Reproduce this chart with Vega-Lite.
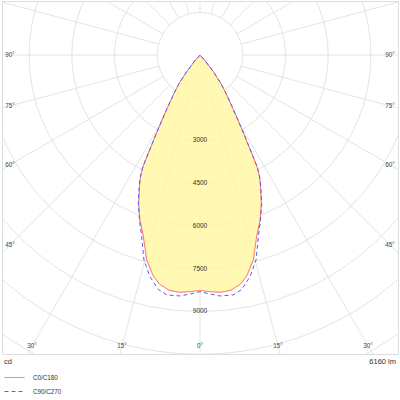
{
  "$schema": "https://vega.github.io/schema/vega-lite/v6.json",
  "width": 396,
  "height": 353,
  "autosize": {"type": "none"},
  "padding": {"left": 2, "top": 1, "right": 2, "bottom": 46},
  "config": {
    "view": {"stroke": "#dddddd"},
    "font": "Liberation Sans",
    "text": {"font": "Liberation Sans"}
  },
  "datasets": {
    "curves": [
      {"c": "C0/C180", "a": -45, "cd": 0},
      {"c": "C0/C180", "a": -42, "cd": 250},
      {"c": "C0/C180", "a": -39, "cd": 700},
      {"c": "C0/C180", "a": -36.5, "cd": 1220},
      {"c": "C0/C180", "a": -34, "cd": 1650},
      {"c": "C0/C180", "a": -32, "cd": 2100},
      {"c": "C0/C180", "a": -30.5, "cd": 2560},
      {"c": "C0/C180", "a": -29, "cd": 3200},
      {"c": "C0/C180", "a": -28, "cd": 3720},
      {"c": "C0/C180", "a": -27.5, "cd": 4080},
      {"c": "C0/C180", "a": -27, "cd": 4420},
      {"c": "C0/C180", "a": -26, "cd": 4760},
      {"c": "C0/C180", "a": -25, "cd": 5010},
      {"c": "C0/C180", "a": -22.5, "cd": 5630},
      {"c": "C0/C180", "a": -20, "cd": 6170},
      {"c": "C0/C180", "a": -17.3, "cd": 6680},
      {"c": "C0/C180", "a": -14.6, "cd": 7430},
      {"c": "C0/C180", "a": -12, "cd": 7920},
      {"c": "C0/C180", "a": -10, "cd": 8170},
      {"c": "C0/C180", "a": -7.5, "cd": 8330},
      {"c": "C0/C180", "a": -5, "cd": 8365},
      {"c": "C0/C180", "a": -2, "cd": 8310},
      {"c": "C0/C180", "a": 0, "cd": 8270},
      {"c": "C0/C180", "a": 2, "cd": 8310},
      {"c": "C0/C180", "a": 5, "cd": 8365},
      {"c": "C0/C180", "a": 7.5, "cd": 8330},
      {"c": "C0/C180", "a": 10, "cd": 8170},
      {"c": "C0/C180", "a": 12, "cd": 7920},
      {"c": "C0/C180", "a": 14.6, "cd": 7430},
      {"c": "C0/C180", "a": 17.3, "cd": 6680},
      {"c": "C0/C180", "a": 20, "cd": 6170},
      {"c": "C0/C180", "a": 22.5, "cd": 5630},
      {"c": "C0/C180", "a": 25, "cd": 5010},
      {"c": "C0/C180", "a": 26, "cd": 4760},
      {"c": "C0/C180", "a": 27, "cd": 4420},
      {"c": "C0/C180", "a": 27.5, "cd": 4080},
      {"c": "C0/C180", "a": 28, "cd": 3720},
      {"c": "C0/C180", "a": 29, "cd": 3200},
      {"c": "C0/C180", "a": 30.5, "cd": 2560},
      {"c": "C0/C180", "a": 32, "cd": 2100},
      {"c": "C0/C180", "a": 34, "cd": 1650},
      {"c": "C0/C180", "a": 36.5, "cd": 1220},
      {"c": "C0/C180", "a": 39, "cd": 700},
      {"c": "C0/C180", "a": 42, "cd": 250},
      {"c": "C0/C180", "a": 45, "cd": 0},
      {"c": "C90/C270", "a": -45, "cd": 0},
      {"c": "C90/C270", "a": -42, "cd": 250},
      {"c": "C90/C270", "a": -39, "cd": 705},
      {"c": "C90/C270", "a": -36.5, "cd": 1225},
      {"c": "C90/C270", "a": -34, "cd": 1660},
      {"c": "C90/C270", "a": -32, "cd": 2110},
      {"c": "C90/C270", "a": -30.5, "cd": 2570},
      {"c": "C90/C270", "a": -29, "cd": 3220},
      {"c": "C90/C270", "a": -28, "cd": 3740},
      {"c": "C90/C270", "a": -27.5, "cd": 4100},
      {"c": "C90/C270", "a": -27, "cd": 4450},
      {"c": "C90/C270", "a": -26, "cd": 4790},
      {"c": "C90/C270", "a": -25, "cd": 5040},
      {"c": "C90/C270", "a": -22.5, "cd": 5660},
      {"c": "C90/C270", "a": -20, "cd": 6200},
      {"c": "C90/C270", "a": -17.8, "cd": 6700},
      {"c": "C90/C270", "a": -15.3, "cd": 7460},
      {"c": "C90/C270", "a": -12.7, "cd": 7980},
      {"c": "C90/C270", "a": -10.1, "cd": 8360},
      {"c": "C90/C270", "a": -7.9, "cd": 8505},
      {"c": "C90/C270", "a": -4.7, "cd": 8490},
      {"c": "C90/C270", "a": -1.6, "cd": 8370},
      {"c": "C90/C270", "a": 0, "cd": 8310},
      {"c": "C90/C270", "a": 1.6, "cd": 8370},
      {"c": "C90/C270", "a": 4.7, "cd": 8490},
      {"c": "C90/C270", "a": 7.9, "cd": 8505},
      {"c": "C90/C270", "a": 10.1, "cd": 8360},
      {"c": "C90/C270", "a": 12.7, "cd": 7980},
      {"c": "C90/C270", "a": 15.3, "cd": 7460},
      {"c": "C90/C270", "a": 17.8, "cd": 6700},
      {"c": "C90/C270", "a": 20, "cd": 6200},
      {"c": "C90/C270", "a": 22.5, "cd": 5660},
      {"c": "C90/C270", "a": 25, "cd": 5040},
      {"c": "C90/C270", "a": 26, "cd": 4790},
      {"c": "C90/C270", "a": 27, "cd": 4450},
      {"c": "C90/C270", "a": 27.5, "cd": 4100},
      {"c": "C90/C270", "a": 28, "cd": 3740},
      {"c": "C90/C270", "a": 29, "cd": 3220},
      {"c": "C90/C270", "a": 30.5, "cd": 2570},
      {"c": "C90/C270", "a": 32, "cd": 2110},
      {"c": "C90/C270", "a": 34, "cd": 1660},
      {"c": "C90/C270", "a": 36.5, "cd": 1225},
      {"c": "C90/C270", "a": 39, "cd": 705},
      {"c": "C90/C270", "a": 42, "cd": 250},
      {"c": "C90/C270", "a": 45, "cd": 0}
    ],
    "rings": [
      {"cd": 1500}, {"cd": 3000}, {"cd": 4500}, {"cd": 6000},
      {"cd": 7500}, {"cd": 9000}, {"cd": 10500}, {"cd": 12000}
    ],
    "spokes": [
      {"a": 0}, {"a": 15}, {"a": 30}, {"a": 45}, {"a": 60}, {"a": 75},
      {"a": 90}, {"a": 105}, {"a": 120}, {"a": 135}, {"a": 150}, {"a": 165},
      {"a": 180}, {"a": 195}, {"a": 210}, {"a": 225}, {"a": 240}, {"a": 255},
      {"a": 270}, {"a": 285}, {"a": 300}, {"a": 315}, {"a": 330}, {"a": 345}
    ],
    "angleLabels": [
      {"a": -90, "t": "90°"}, {"a": -75, "t": "75°"}, {"a": -60, "t": "60°"},
      {"a": -45, "t": "45°"}, {"a": -30, "t": "30°"}, {"a": -15, "t": "15°"},
      {"a": 0, "t": "0°"}, {"a": 15, "t": "15°"}, {"a": 30, "t": "30°"},
      {"a": 45, "t": "45°"}, {"a": 60, "t": "60°"}, {"a": 75, "t": "75°"},
      {"a": 90, "t": "90°"}
    ],
    "ringLabels": [
      {"cd": 3000}, {"cd": 4500}, {"cd": 6000}, {"cd": 7500}, {"cd": 9000}
    ]
  },
  "layer": [
    {
      "data": {"name": "spokes"},
      "transform": [
        {"calculate": "datum.a * PI / 180", "as": "r"},
        {"calculate": "1500 * sin(datum.r)", "as": "x"},
        {"calculate": "-1500 * cos(datum.r)", "as": "y"},
        {"calculate": "20000 * sin(datum.r)", "as": "x2"},
        {"calculate": "-20000 * cos(datum.r)", "as": "y2"}
      ],
      "mark": {"type": "rule", "stroke": "#e4e4e4", "strokeWidth": 1, "clip": true},
      "encoding": {
        "x": {"field": "x", "type": "quantitative", "scale": {"domain": [-6950, 6950], "nice": false, "zero": false}, "axis": null},
        "y": {"field": "y", "type": "quantitative", "scale": {"domain": [-10500, 1900], "nice": false, "zero": false}, "axis": null},
        "x2": {"field": "x2"},
        "y2": {"field": "y2"}
      }
    },
    {
      "data": {"name": "rings"},
      "mark": {"type": "arc", "theta": 0, "theta2": 6.2832, "filled": false, "stroke": "#e4e4e4", "strokeWidth": 1, "clip": true},
      "encoding": {
        "x": {"datum": 0, "type": "quantitative", "scale": {"domain": [-6950, 6950], "nice": false, "zero": false}, "axis": null},
        "y": {"datum": 0, "type": "quantitative", "scale": {"domain": [-10500, 1900], "nice": false, "zero": false}, "axis": null},
        "radius": {"field": "cd", "type": "quantitative", "stack": false, "scale": {"type": "linear", "domain": [0, 6950], "range": [0, 198], "zero": true}}
      }
    },
    {
      "data": {"name": "curves"},
      "transform": [
        {"filter": "datum.c == 'C0/C180'"},
        {"calculate": "datum.cd * sin(datum.a * PI / 180)", "as": "x"},
        {"calculate": "-datum.cd * cos(datum.a * PI / 180)", "as": "y"}
      ],
      "mark": {"type": "line", "interpolate": "linear-closed", "fill": "#fff8a0", "fillOpacity": 0.8, "stroke": null, "strokeWidth": 0},
      "encoding": {
        "x": {"field": "x", "type": "quantitative", "scale": {"domain": [-6950, 6950], "nice": false, "zero": false}, "axis": null},
        "y": {"field": "y", "type": "quantitative", "scale": {"domain": [-10500, 1900], "nice": false, "zero": false}, "axis": null},
        "order": {"field": "a", "type": "quantitative"}
      }
    },
    {
      "data": {"name": "curves"},
      "transform": [
        {"calculate": "datum.cd * sin(datum.a * PI / 180)", "as": "x"},
        {"calculate": "-datum.cd * cos(datum.a * PI / 180)", "as": "y"}
      ],
      "mark": {"type": "line", "strokeWidth": 1},
      "encoding": {
        "x": {"field": "x", "type": "quantitative", "scale": {"domain": [-6950, 6950], "nice": false, "zero": false}, "axis": null},
        "y": {"field": "y", "type": "quantitative", "scale": {"domain": [-10500, 1900], "nice": false, "zero": false}, "axis": null},
        "order": {"field": "a", "type": "quantitative"},
        "stroke": {
          "field": "c", "type": "nominal",
          "scale": {"domain": ["C0/C180", "C90/C270"], "range": ["#ff5a5a", "#5a5aff"]},
          "legend": {
            "orient": "none", "legendX": 2, "legendY": 366, "title": null,
            "symbolType": "stroke", "symbolSize": 400, "symbolStrokeWidth": 1,
            "labelFontSize": 6.3, "labelColor": "#333", "labelOffset": 8,
            "rowPadding": -10, "padding": 0,
            "encode": {"symbols": {"update": {
              "stroke": {"signal": "datum.value === 'C0/C180' ? '#ff5a5a' : '#5a5aff'"},
              "strokeDash": {"scale": "strokeDash", "field": "value"}
            }}}
          }
        },
        "strokeDash": {
          "field": "c", "type": "nominal",
          "scale": {"domain": ["C0/C180", "C90/C270"], "range": [[1, 0], [4, 3]]},
          "legend": null
        }
      }
    },
    {
      "data": {"name": "ringLabels"},
      "transform": [{"calculate": "-datum.cd", "as": "y"}],
      "mark": {"type": "text", "fontSize": 6.5, "fill": "#333", "align": "center", "baseline": "middle"},
      "encoding": {
        "x": {"datum": 0, "type": "quantitative", "scale": {"domain": [-6950, 6950], "nice": false, "zero": false}, "axis": null},
        "y": {"field": "y", "type": "quantitative", "scale": {"domain": [-10500, 1900], "nice": false, "zero": false}, "axis": null},
        "text": {"field": "cd", "type": "quantitative", "format": "d"}
      }
    },
    {
      "data": {"name": "angleLabels"},
      "transform": [
        {"calculate": "datum.a * PI / 180", "as": "r"},
        {"calculate": "min(6670 / max(abs(sin(datum.r)), 1e-9), 10219 / max(cos(datum.r), 1e-9))", "as": "t0"},
        {"calculate": "datum.t0 * sin(datum.r)", "as": "x"},
        {"calculate": "-datum.t0 * cos(datum.r)", "as": "y"}
      ],
      "mark": {"type": "text", "fontSize": 6.3, "fill": "#444", "align": "center", "baseline": "middle"},
      "encoding": {
        "x": {"field": "x", "type": "quantitative", "scale": {"domain": [-6950, 6950], "nice": false, "zero": false}, "axis": null},
        "y": {"field": "y", "type": "quantitative", "scale": {"domain": [-10500, 1900], "nice": false, "zero": false}, "axis": null},
        "text": {"field": "t"}
      }
    },
    {
      "data": {"values": [{"t": "cd"}]},
      "mark": {"type": "text", "fontSize": 7.5, "fill": "#333", "align": "left", "baseline": "middle", "dx": 2, "dy": 8},
      "encoding": {
        "x": {"datum": -6950, "type": "quantitative", "scale": {"domain": [-6950, 6950], "nice": false, "zero": false}, "axis": null},
        "y": {"datum": -10500, "type": "quantitative", "scale": {"domain": [-10500, 1900], "nice": false, "zero": false}, "axis": null},
        "text": {"field": "t"}
      }
    },
    {
      "data": {"values": [{"t": "6160 lm"}]},
      "mark": {"type": "text", "fontSize": 7.5, "fill": "#333", "align": "right", "baseline": "middle", "dx": -2, "dy": 8},
      "encoding": {
        "x": {"datum": 6950, "type": "quantitative", "scale": {"domain": [-6950, 6950], "nice": false, "zero": false}, "axis": null},
        "y": {"datum": -10500, "type": "quantitative", "scale": {"domain": [-10500, 1900], "nice": false, "zero": false}, "axis": null},
        "text": {"field": "t"}
      }
    }
  ]
}
